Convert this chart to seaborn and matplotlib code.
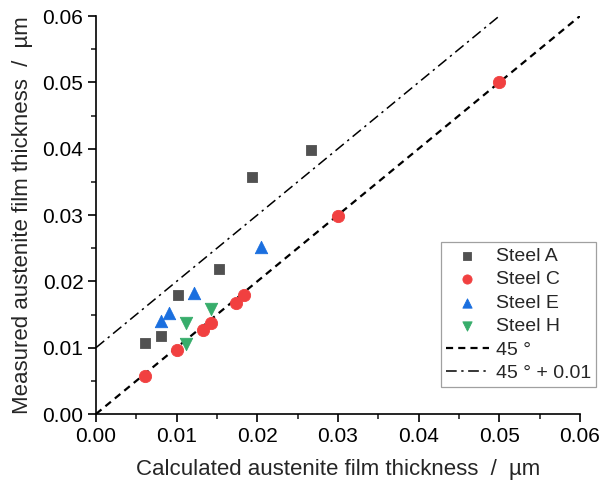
import matplotlib
matplotlib.use("Agg")
import matplotlib.pyplot as plt
import seaborn as sns
import pandas as pd
from matplotlib.ticker import MultipleLocator, FormatStrFormatter

# Data
steel_a_x = [0.0061, 0.0081, 0.0102, 0.0153, 0.0194, 0.0266]
steel_a_y = [0.0107, 0.0117, 0.0179, 0.0218, 0.0358, 0.0398]
steel_c_x = [0.0061, 0.0101, 0.0133, 0.0142, 0.0173, 0.0183, 0.0300, 0.0500]
steel_c_y = [0.0057, 0.0097, 0.0127, 0.0137, 0.0168, 0.0179, 0.0299, 0.0500]
steel_e_x = [0.0081, 0.0091, 0.0122, 0.0204]
steel_e_y = [0.0140, 0.0152, 0.0183, 0.0252]
steel_h_x = [0.0111, 0.0111, 0.0142]
steel_h_y = [0.0106, 0.0137, 0.0158]
line45_x = [0.0, 0.06]
line45_y = [0.0, 0.06]
line45b_x = [0.0, 0.05]
line45b_y = [0.01, 0.06]
ticks = [0.00, 0.01, 0.02, 0.03, 0.04, 0.05, 0.06]

sns.set_style("ticks")
plt.rcParams['font.family'] = ['Liberation Sans', 'DejaVu Sans']

fig = plt.figure(figsize=(6.14, 4.91), dpi=100)
ax = fig.add_axes([0.1563, 0.1568, 0.7883, 0.8106])

series = [
    ("Steel A", steel_a_x, steel_a_y, "#515151", "s", 62),
    ("Steel C", steel_c_x, steel_c_y, "#F14040", "o", 78),
    ("Steel E", steel_e_x, steel_e_y, "#1A6FDF", "^", 80),
    ("Steel H", steel_h_x, steel_h_y, "#37AD6B", "v", 80),
]

sns.lineplot(x=line45_x, y=line45_y, ax=ax, color="black", lw=1.6,
             linestyle=(0, (3.2, 2.3)), label="45 °", zorder=2)
sns.lineplot(x=line45b_x, y=line45b_y, ax=ax, color="black", lw=1.1,
             linestyle=(0, (7, 3, 1.5, 3)), label="45 ° + 0.01", zorder=2)

for name, xs, ys, col, mk, s in series:
    df = pd.DataFrame({"x": xs, "y": ys})
    sns.scatterplot(data=df, x="x", y="y", ax=ax, color=col, marker=mk, s=s,
                    edgecolor=col, linewidth=0.6, label=name, zorder=3)

ax.set_xlim(0, 0.06)
ax.set_ylim(0, 0.06)
ax.set_xticks(ticks)
ax.set_yticks(ticks)
ax.xaxis.set_minor_locator(MultipleLocator(0.005))
ax.yaxis.set_minor_locator(MultipleLocator(0.005))
ax.xaxis.set_major_formatter(FormatStrFormatter('%.2f'))
ax.yaxis.set_major_formatter(FormatStrFormatter('%.2f'))
ax.tick_params(axis='both', which='major', direction='out', length=6, width=1.2,
               labelsize=15, colors='black', pad=3)
ax.tick_params(axis='both', which='minor', direction='out', length=3.5, width=1.2)
for sp in ['top', 'right']:
    ax.spines[sp].set_visible(False)
for sp in ['left', 'bottom']:
    ax.spines[sp].set_linewidth(1.2)
    ax.spines[sp].set_color('black')

ax.set_xlabel("Calculated austenite film thickness  /  µm", fontsize=16, labelpad=10)
ax.set_ylabel("Measured austenite film thickness  /  µm", fontsize=16, labelpad=7)

handles, labels = ax.get_legend_handles_labels()
order = ["Steel A", "Steel C", "Steel E", "Steel H", "45 °", "45 ° + 0.01"]
hmap = dict(zip(labels, handles))
leg = ax.legend([hmap[o] for o in order], order, loc='lower right',
                bbox_to_anchor=(1.033, 0.068), borderaxespad=0, fontsize=14,
                frameon=True, fancybox=False, edgecolor='#a0a0a0', framealpha=1,
                handlelength=2.2, handletextpad=0.36, borderpad=0.25,
                labelspacing=0.3, markerscale=0.75)
leg.get_frame().set_linewidth(0.9)

fig.savefig("out.png", dpi=100)
